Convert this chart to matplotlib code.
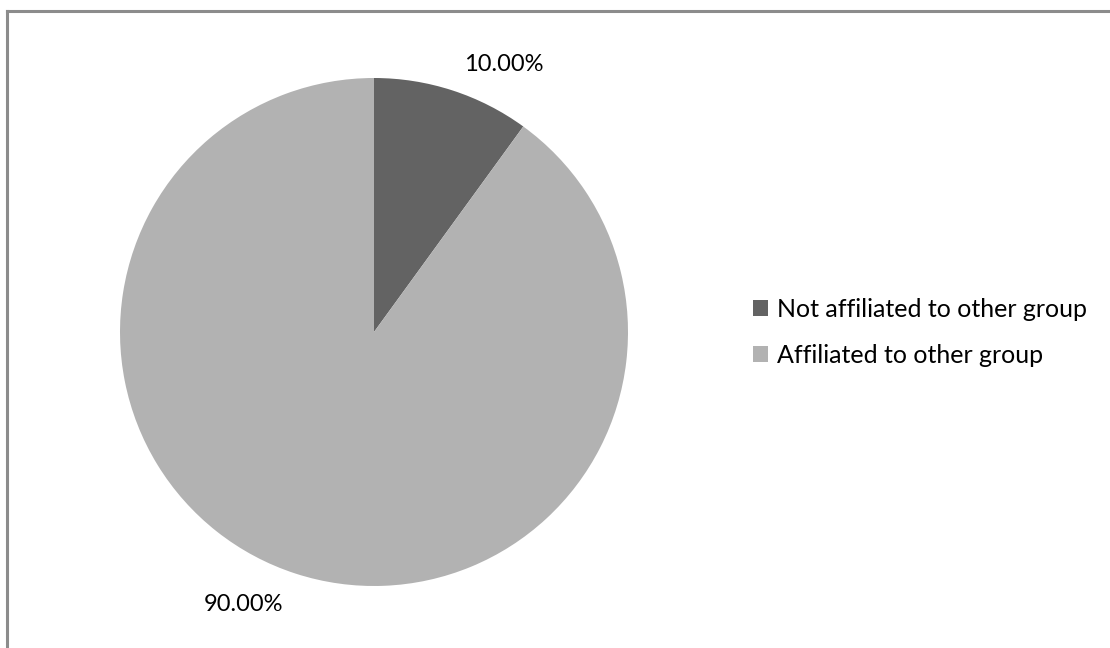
import numpy as np
import matplotlib
matplotlib.use("Agg")
from matplotlib import pyplot as plt
from matplotlib.lines import Line2D

categories = ["Not affiliated to other group", "Affiliated to other group"]
shares = [10.0, 90.0]
pct_labels = ["10.00%", "90.00%"]
colors = ["#636363", "#b2b2b2"]

plt.rcParams['font.family'] = ['Lato', 'DejaVu Sans']

fig = plt.figure(figsize=(11.1, 6.48), dpi=100)

# frame: only top and left lines visible in the source
fig.add_artist(Line2D([7/1110, 7/1110], [0, 1 - 10.5/648], color="#8c8c8c", lw=2.2))
fig.add_artist(Line2D([7/1110, 1], [1 - 10.5/648, 1 - 10.5/648], color="#8c8c8c", lw=2.2))

# axes box around the pie (center 374,332 radius 254 px)
ax = fig.add_axes([120/1110, 62/648, 508/1110, 508/648])
wedges, _ = ax.pie(shares, colors=colors, startangle=90, counterclock=False,
                   wedgeprops=dict(linewidth=0))
ax.set_aspect('equal')
ax.set_xlim(-1, 1)
ax.set_ylim(-1, 1)

# label placement (angle offset in degrees, radius factor)
label_pos = [(-7.9, 1.17), (-7.6, 1.19)]
for w, txt, (dang, rad) in zip(wedges, pct_labels, label_pos):
    mid = np.deg2rad((w.theta1 + w.theta2) / 2 + dang)
    ax.text(rad * np.cos(mid), rad * np.sin(mid), txt, ha="center", va="center",
            fontsize=17, color="black", clip_on=False)

fig.legend(wedges, categories, loc="center left",
           bbox_to_anchor=(753/1110, 1 - 332/648), frameon=False,
           fontsize=18, handlelength=0.6, handleheight=0.6,
           handletextpad=0.35, labelspacing=0.92,
           borderpad=0, borderaxespad=0)

fig.savefig("out.png", dpi=100)
plt.close(fig)
